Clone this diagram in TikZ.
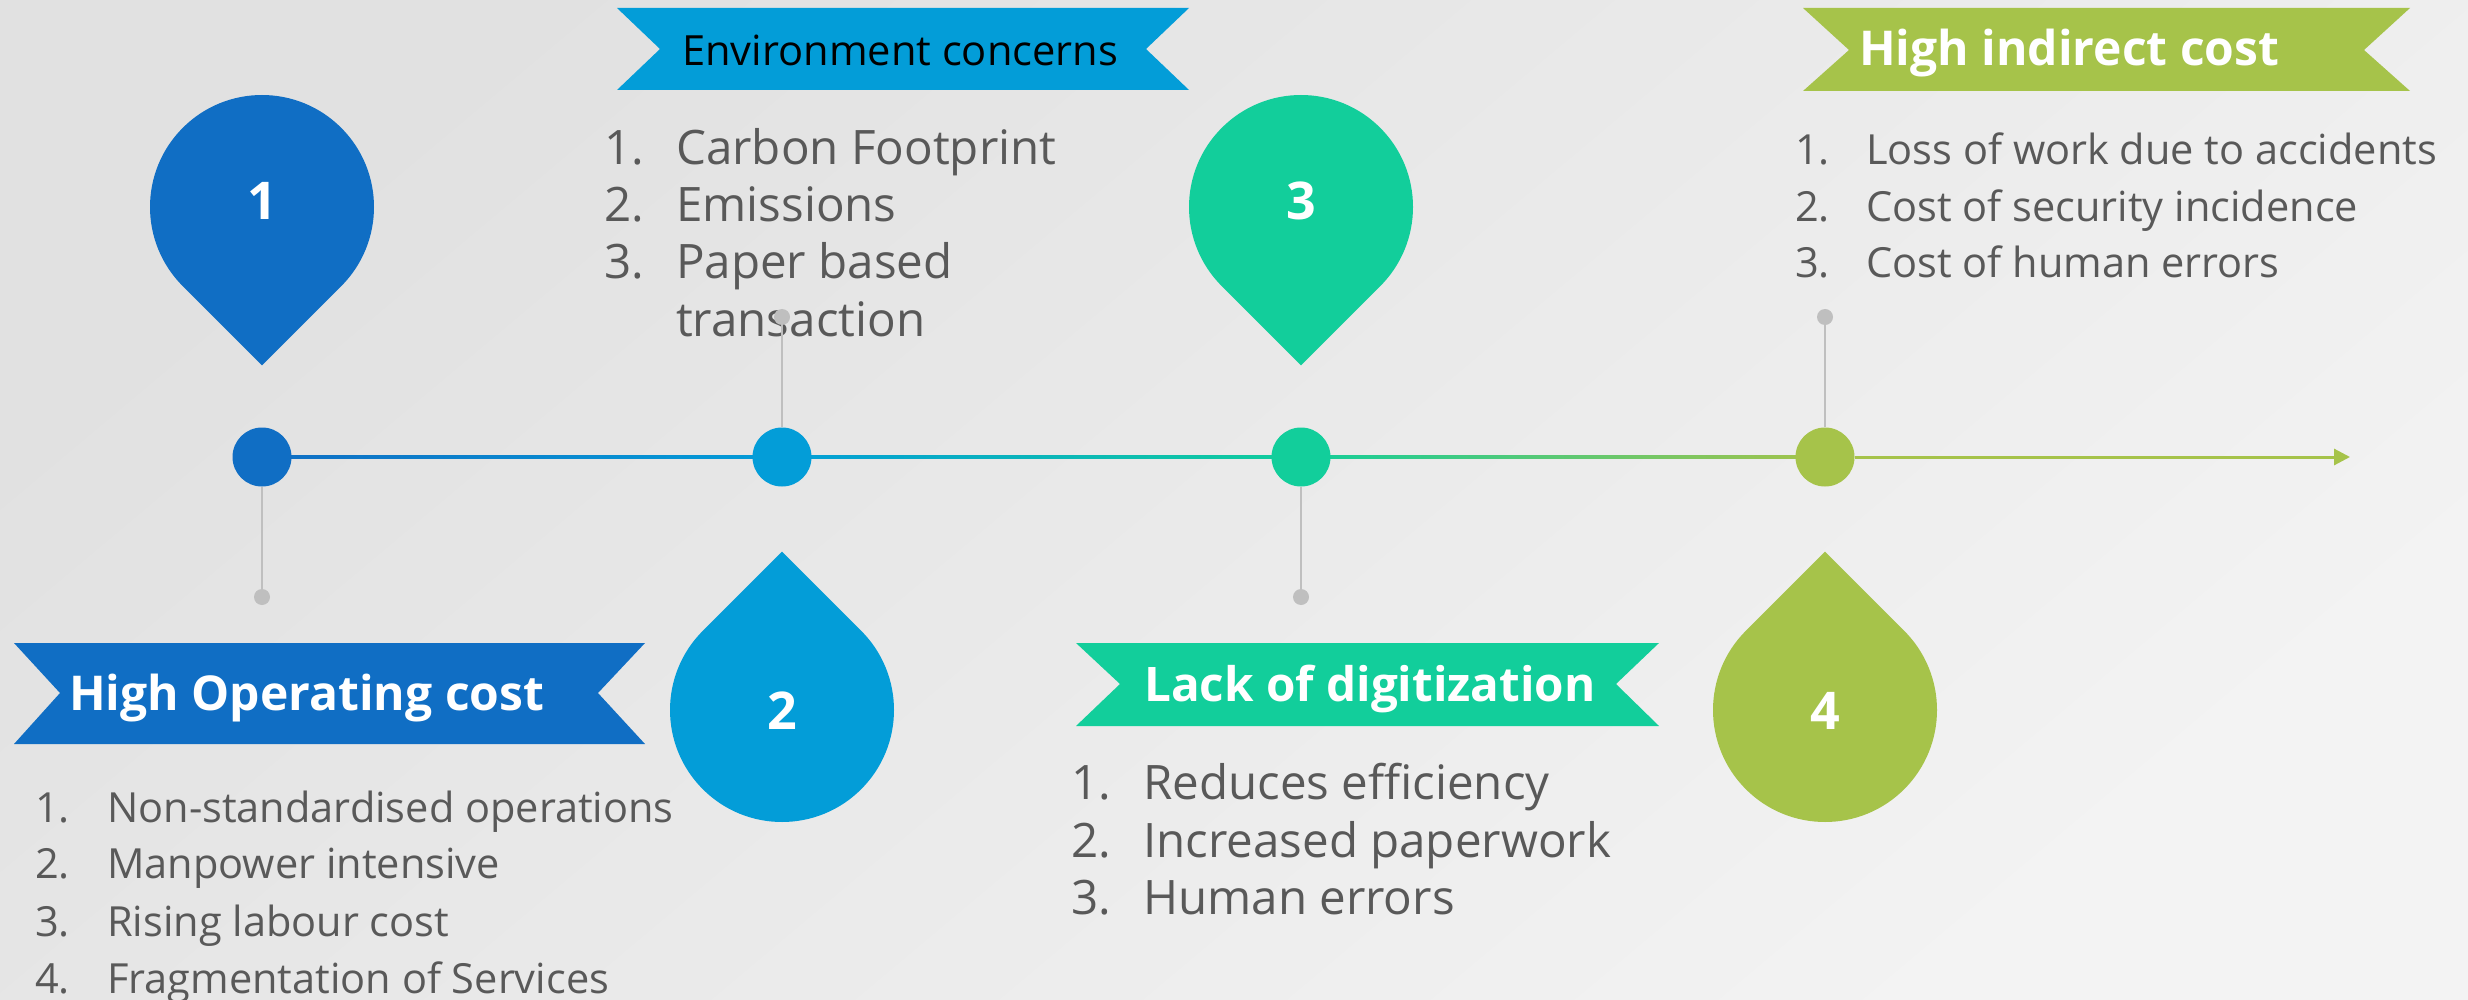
\documentclass[tikz,border=0pt]{standalone}
\usepackage{fontspec}
\setmainfont{Open Sans}
\usetikzlibrary{calc,arrows.meta}
\definecolor{cA}{HTML}{106EC4}
\definecolor{cB}{HTML}{039DD8}
\definecolor{cC}{HTML}{12CE9B}
\definecolor{cD}{HTML}{A6C34A}
\definecolor{txt}{HTML}{595959}
\definecolor{grayc}{HTML}{BFBFBF}
\definecolor{bgA}{HTML}{E1E1E1}
\definecolor{bgB}{HTML}{F3F3F3}
\begin{document}
\begin{tikzpicture}[x=1pt,y=1pt,
  tdot/.style={circle, inner sep=0pt, minimum size=59pt},
  knob/.style={circle, fill=grayc, inner sep=0pt, minimum size=16pt},
  stem/.style={draw=grayc, line width=2pt},
  title/.style={inner sep=0pt, anchor=base west, text=white, font=\fontsize{48}{55}\selectfont\bfseries},
  item/.style={inner sep=0pt, anchor=base west, text=txt},
  small/.style={item, font=\fontsize{41.5}{57}\selectfont},
  big/.style={item, font=\fontsize{47.5}{57}\selectfont},
  num/.style={inner sep=0pt, anchor=base, text=white, font=\fontsize{52}{52}\selectfont\bfseries}
]
\useasboundingbox (0,0) rectangle (2468,-1000);
\shade[top color=bgA, bottom color=bgB, shading angle=40] (0,0) rectangle (2468,-1000);

% timeline positions
\coordinate (p1) at (262,-457);
\coordinate (p2) at (782,-457);
\coordinate (p3) at (1301,-457);
\coordinate (p4) at (1825,-457);
\coordinate (tlend) at (2350,-457);

\shade[left color=cA, right color=cB] ($(p1)+(0,1.5)$) rectangle ($(p2)+(0,-1.5)$);
\shade[left color=cB, right color=cC] ($(p2)+(0,1.5)$) rectangle ($(p3)+(0,-1.5)$);
\shade[left color=cC, right color=cD] ($(p3)+(0,1.5)$) rectangle ($(p4)+(0,-1.5)$);

\node[tdot, fill=cA] (n1) at (p1) {};
\node[tdot, fill=cB] (n2) at (p2) {};
\node[tdot, fill=cC] (n3) at (p3) {};
\node[tdot, fill=cD] (n4) at (p4) {};
\draw[line width=3pt, cD, -{Triangle[length=16pt,width=16pt]}] (n4) -- (tlend);

% drops
\coordinate (q1) at (262,-207);
\coordinate (q2) at (782,-710);
\coordinate (q3) at (1301,-207);
\coordinate (q4) at (1825,-710);
\fill[cA] ($(q1)+(-45:112)$) arc[start angle=-45,end angle=225,radius=112] -- ($(q1)+(0,-158.4)$) -- cycle;
\fill[cB] ($(q2)+(135:112)$) arc[start angle=135,end angle=405,radius=112] -- ($(q2)+(0,158.4)$) -- cycle;
\fill[cC] ($(q3)+(-45:112)$) arc[start angle=-45,end angle=225,radius=112] -- ($(q3)+(0,-158.4)$) -- cycle;
\fill[cD] ($(q4)+(135:112)$) arc[start angle=135,end angle=405,radius=112] -- ($(q4)+(0,158.4)$) -- cycle;
\node[num] (m1) at (262,-220) {1};
\node[num] (m2) at (782,-729) {2};
\node[num] (m3) at (1301,-220) {3};
\node[num] (m4) at (1825,-729) {4};

% banners
\fill[cA] (14,-643) -- (645,-643) -- (598,-693) -- (645,-744) -- (14,-744) -- (60,-693) -- cycle;
\fill[cB] (617,-8) -- (1189,-8) -- (1146,-49) -- (1189,-90) -- (617,-90) -- (660,-49) -- cycle;
\fill[cD] (1803,-8) -- (2410,-8) -- (2364,-50) -- (2410,-91) -- (1803,-91) -- (1849,-50) -- cycle;
\fill[cC] (1076,-643) -- (1659,-643) -- (1616,-684) -- (1659,-726) -- (1076,-726) -- (1120,-684) -- cycle;

\node[title] (t1) at (69,-710) {High Operating cost};
\node[title, text=black, font=\fontsize{41.6}{50}\selectfont] (t2) at (682,-66) {Environment concerns};
\node[title] (t3) at (1859,-66) {High indirect cost};
\node[title, font=\fontsize{47.6}{55}\selectfont\bfseries] (t4) at (1144,-701) {Lack of digitization};

% list 1
\node[small] (a1n) at (35,-822) {1.};
\node[small] (a1t) at (107,-822) {Non-standardised operations};
\node[small] (a2n) at (35,-878) {2.};
\node[small] (a2t) at (107,-878) {Manpower intensive};
\node[small] (a3n) at (35,-936) {3.};
\node[small] (a3t) at (107,-936) {Rising labour cost};
\node[small] (a4n) at (35,-993) {4.};
\node[small] (a4t) at (107,-993) {Fragmentation of Services};
% list 2
\node[big] (b1n) at (604,-165) {1.};
\node[big] (b1t) at (676,-165) {Carbon Footprint};
\node[big] (b2n) at (604,-222) {2.};
\node[big] (b2t) at (676,-222) {Emissions};
\node[big] (b3n) at (604,-279) {3.};
\node[big] (b3t) at (676,-279) {Paper based};
\node[big] (b4t) at (676,-337) {transaction};
% list 3
\node[small] (c1n) at (1795,-165) {1.};
\node[small] (c1t) at (1866,-165) {Loss of work due to accidents};
\node[small] (c2n) at (1795,-222) {2.};
\node[small] (c2t) at (1866,-222) {Cost of security incidence};
\node[small] (c3n) at (1795,-278) {3.};
\node[small] (c3t) at (1866,-278) {Cost of human errors};
% list 4
\node[big] (d1n) at (1071,-799) {1.};
\node[big] (d1t) at (1143,-799) {Reduces efficiency};
\node[big] (d2n) at (1071,-857) {2.};
\node[big] (d2t) at (1143,-857) {Increased paperwork};
\node[big] (d3n) at (1071,-914) {3.};
\node[big] (d3t) at (1143,-914) {Human errors};

% stems
\node[knob] (k1) at (262,-597) {};
\node[knob] (k2) at (782,-317) {};
\node[knob] (k3) at (1301,-597) {};
\node[knob] (k4) at (1825,-317) {};
\draw[stem] (n1) -- (k1);
\draw[stem] (n2) -- (k2);
\draw[stem] (n3) -- (k3);
\draw[stem] (n4) -- (k4);
\end{tikzpicture}
\end{document}
